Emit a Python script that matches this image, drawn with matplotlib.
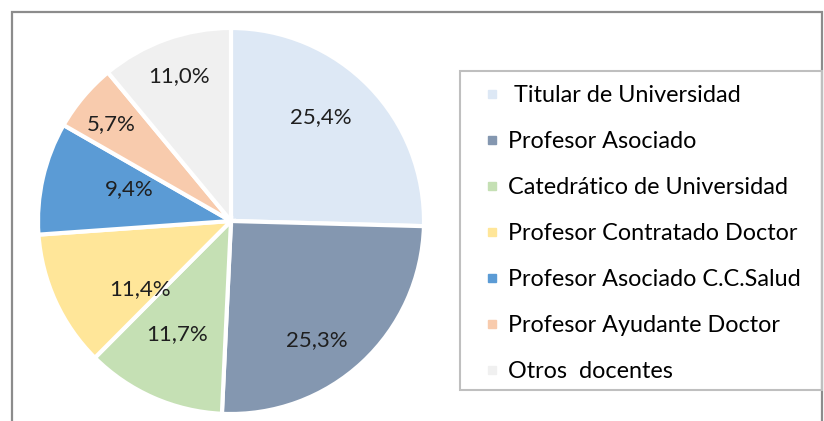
import numpy as np
import matplotlib.pyplot as plt
from matplotlib.patches import Rectangle
from matplotlib.lines import Line2D

plt.rcParams['font.family'] = ['Lato', 'DejaVu Sans']

categorias = [' Titular de Universidad', 'Profesor Asociado', 'Catedrático de Universidad',
              'Profesor Contratado Doctor', 'Profesor Asociado C.C.Salud',
              'Profesor Ayudante Doctor', 'Otros  docentes']
porcentajes = [25.4, 25.3, 11.7, 11.4, 9.4, 5.7, 11.0]
etiquetas = ['25,4%', '25,3%', '11,7%', '11,4%', '9,4%', '5,7%', '11,0%']
colores = ['#dde8f5', '#8497b0', '#c5e0b4', '#ffe699', '#5b9bd5', '#f8cbad', '#f0f0f0']

# posicion de las etiquetas dentro de cada sector (radio, giro en grados)
lab_r = [0.71, 0.76, 0.65, 0.59, 0.55, 0.80, 0.80]
lab_dt = [5, -7, -1.5, 12, -4.5, 1, 0]

W, H = 824, 421
fig = plt.figure(figsize=(W / 100, H / 100), dpi=100)

# marco exterior
fig.patches.append(Rectangle((12 / W, -0.05), 810 / W, 1.05 - 12 / H, transform=fig.transFigure,
                             fill=False, edgecolor='#8c8c8c', linewidth=1.6, clip_on=False))

cx, cy, R = 231, 221, 193
ax = fig.add_axes([(cx - R) / W, (H - cy - R) / H, 2 * R / W, 2 * R / H])
wedges, _ = ax.pie(porcentajes, colors=colores, startangle=90, counterclock=False,
                   radius=1.0, wedgeprops=dict(edgecolor='white', linewidth=3))
ax.set_xlim(-1, 1)
ax.set_ylim(-1, 1)
ax.set_aspect('equal')
ax.axis('off')

for w, txt, r, dt in zip(wedges, etiquetas, lab_r, lab_dt):
    th = np.deg2rad((w.theta1 + w.theta2) / 2 + dt)
    ax.text(r * np.cos(th), r * np.sin(th), txt, ha='center', va='center',
            fontsize=16, color='#1f1f1f')

# leyenda
fig.patches.append(Rectangle((460 / W, 1 - 390 / H), 362 / W, 319 / H, transform=fig.transFigure,
                             fill=False, edgecolor='#bfbfbf', linewidth=1.5))
handles = [Line2D([], [], marker='s', linestyle='none', markersize=6,
                  markerfacecolor=c, markeredgecolor=c) for c in colores]
fig.legend(handles, categorias, loc='upper left', bbox_to_anchor=(486 / W, 1 - 85 / H),
           frameon=False, fontsize=16.8, handlelength=0.55, handletextpad=0.4,
           labelspacing=1.07, borderpad=0, borderaxespad=0, labelcolor='black')

fig.savefig('out.png', dpi=100)
